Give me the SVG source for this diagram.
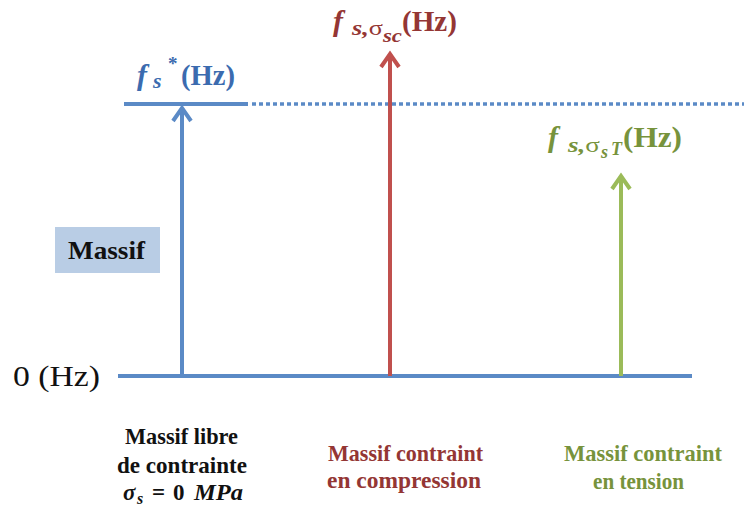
<svg xmlns="http://www.w3.org/2000/svg" width="744" height="506" viewBox="0 0 744 506">
<style>
.t{font-family:"Liberation Serif","DejaVu Serif",serif;font-weight:bold}
.cap{font-size:23px}
.it{font-style:italic}
.blue{fill:#3B6BAF}
.red{fill:#943634}
.green{fill:#77933C}
</style>
<rect width="744" height="506" fill="#fff"/>
<g id="connectors" fill="none" stroke-width="4">
<line x1="118" y1="376" x2="692" y2="376" stroke="#5B8AC6"/>
<line x1="124" y1="104" x2="248" y2="104" stroke="#5B8AC6"/>
<line x1="252" y1="104" x2="744" y2="104" stroke="#5B8AC6" stroke-width="3.5" stroke-dasharray="4 3"/>
<g stroke="#5B8AC6"><line x1="182" y1="376" x2="182" y2="108"/><polyline points="173,121 182,108 191,121"/></g>
<g stroke="#C0504D"><line x1="390" y1="376" x2="390" y2="54"/><polyline points="381,67 390,54 399,67"/></g>
<g stroke="#9BBB59"><line x1="621" y1="376" x2="621" y2="176"/><polyline points="612,189 621,176 630,189"/></g>
</g>
<g id="massif">
<rect x="55" y="227" width="105" height="46" fill="#B9CDE5"/>
<text class="t" x="68" y="259" font-size="26" textLength="77" lengthAdjust="spacingAndGlyphs" fill="#111">Massif</text>
</g>
<g id="zero"><text x="13" y="386" font-family="Liberation Serif, serif" font-size="30" textLength="87" lengthAdjust="spacingAndGlyphs" fill="#111">0 (Hz)</text></g>
<g id="fs" class="t blue">
<text class="it" x="137" y="85" font-size="30">f</text>
<text class="it" x="153" y="88" font-size="22">s</text>
<text x="168" y="70" font-size="19">*</text>
<text x="181" y="85" font-size="29" textLength="54" lengthAdjust="spacingAndGlyphs">(Hz)</text>
</g>
<g id="fsc" class="t red">
<text class="it" x="333" y="31" font-size="30">f</text>
<text x="352" y="35" font-size="21" textLength="31" lengthAdjust="spacingAndGlyphs"><tspan class="it">s,</tspan><tspan font-weight="normal">σ</tspan></text>
<text class="it" x="383" y="42" font-size="18" textLength="19" lengthAdjust="spacingAndGlyphs">sc</text>
<text x="402" y="31" font-size="29" textLength="55" lengthAdjust="spacingAndGlyphs">(Hz)</text>
</g>
<g id="fst" class="t green">
<text class="it" x="548" y="147" font-size="30">f</text>
<text x="568" y="152" font-size="21" textLength="32" lengthAdjust="spacingAndGlyphs"><tspan class="it">s,</tspan><tspan font-weight="normal">σ</tspan></text>
<text class="it" x="601" y="158" font-size="18">s</text>
<text class="it" x="611" y="155" font-size="18">T</text>
<text x="623" y="147" font-size="29" textLength="59" lengthAdjust="spacingAndGlyphs">(Hz)</text>
</g>
<g id="cap1" class="t cap" fill="#111">
<text x="125" y="444" textLength="113" lengthAdjust="spacingAndGlyphs">Massif libre</text>
<text x="117" y="473" textLength="130" lengthAdjust="spacingAndGlyphs">de contrainte</text>
<text class="it" x="123" y="500">σ</text>
<text class="it" x="137" y="504" font-size="16">s</text>
<text x="152" y="500">=</text>
<text x="173" y="500">0</text>
<text class="it" x="194" y="500" textLength="49" lengthAdjust="spacingAndGlyphs">MPa</text>
</g>
<g id="cap2" class="t cap red">
<text x="328" y="461" textLength="155" lengthAdjust="spacingAndGlyphs">Massif contraint</text>
<text x="327" y="488" textLength="154" lengthAdjust="spacingAndGlyphs">en compression</text>
</g>
<g id="cap3" class="t cap green">
<text x="564" y="461" textLength="158" lengthAdjust="spacingAndGlyphs">Massif contraint</text>
<text x="593" y="489" textLength="91" lengthAdjust="spacingAndGlyphs">en tension</text>
</g>
</svg>
